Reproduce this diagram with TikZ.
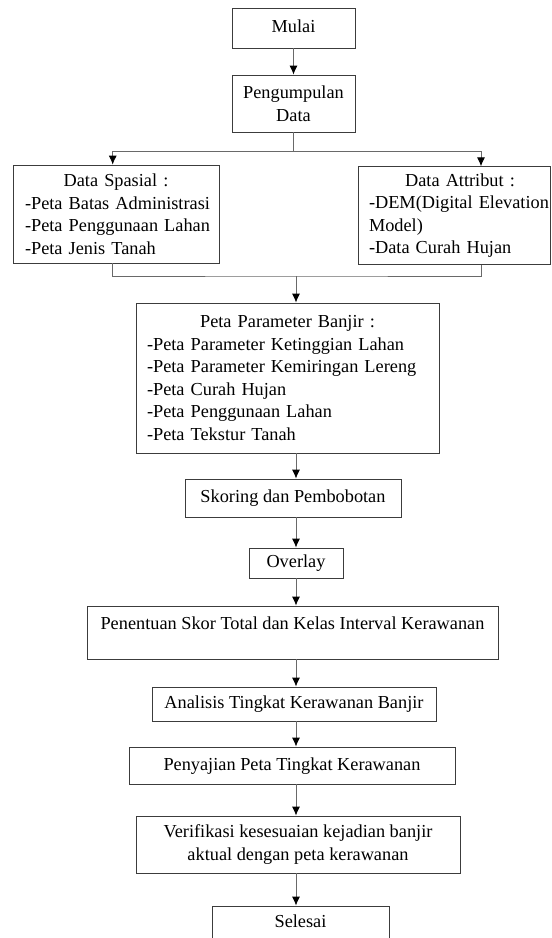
\documentclass[tikz,border=0pt]{standalone}
\usepackage{fontspec}
\setmainfont{Liberation Serif}
\usepackage{xcolor}
\usetikzlibrary{arrows.meta}
\usetikzlibrary{math}
\definecolor{garisabu}{RGB}{105,105,105}
\definecolor{tepikotak}{RGB}{60,60,60}

\tikzset{
kotak/.style={draw=tepikotak, line width=0.8pt, inner sep=0pt, font=\fontsize{18.3}{22.5}\selectfont},
tunggal/.style={text height=13pt, text depth=4pt},
garis/.style={draw=garisabu, line width=0.8pt},
panah/.style={garis, -{Latex[black,length=9pt,width=8pt]}},
}

\begin{document}
\begin{tikzpicture}[x=1pt,y=-1pt]
\tikzmath{
\xa=293.5;
\xb=296;
\xki=112.7;
\xka=481;
\ycab=151.5;
\ygab=276;
}
\useasboundingbox (0,0) rectangle (552,938);
\clip (0,0) rectangle (552,938);

\node[kotak, tunggal, minimum width=123pt, minimum height=40pt] (mulai) at (\xa,28) {Mulai};
\node[kotak, align=center, minimum width=123pt, minimum height=57pt] (kumpul) at (\xa,103.5) {Pengumpulan\\Data};

\node[kotak, align=left, text width=182pt, inner xsep=12pt, minimum height=98pt] (spasial) at (116,214)
{\centering Data Spasial :\par\raggedright \mbox{-Peta Batas Administrasi}\\\mbox{-Peta Penggunaan Lahan}\\\mbox{-Peta Jenis Tanah}};
\node[kotak, align=left, text width=170pt, inner xsep=11pt, minimum height=97.5pt] (atribut) at (454,215.5)
{\centering\hspace*{12pt}Data Attribut :\par\raggedright \mbox{-DEM(Digital Elevation}\\Model)\\\mbox{-Data Curah Hujan}};

\node[kotak, align=left, text width=281pt, inner xsep=11pt, minimum height=150pt] (parameter) at (287.5,378)
{\centering Peta Parameter Banjir :\par\raggedright \mbox{-Peta Parameter Ketinggian Lahan}\\\mbox{-Peta Parameter Kemiringan Lereng}\\-Peta Curah Hujan\\-Peta Penggunaan Lahan\\-Peta Tekstur Tanah};

\node[kotak, tunggal, minimum width=216pt, minimum height=38pt] (skoring) at (293,498) {Skoring dan Pembobotan};
\node[kotak, tunggal, minimum width=94pt, minimum height=30pt] (overlay) at (296,563) {Overlay};
\node[kotak, text height=23pt, text depth=30pt, minimum width=411pt] (skor) at (292.5,632.5) {Penentuan Skor Total dan Kelas Interval Kerawanan};
\node[kotak, tunggal, minimum width=284pt, minimum height=34pt] (analisis) at (294,704) {Analisis Tingkat Kerawanan Banjir};
\node[kotak, tunggal, minimum width=326pt, minimum height=37pt] (sajian) at (292,765.5) {Penyajian Peta Tingkat Kerawanan};
\node[kotak, align=center, minimum width=324pt, minimum height=57pt] (verifikasi) at (298,844.5) {Verifikasi kesesuaian kejadian banjir\\aktual dengan peta kerawanan};
\node[kotak, tunggal, minimum width=177pt, minimum height=34pt] (selesai) at (300.5,923) {Selesai};

% percabangan data
\coordinate (cab) at (\xa,\ycab);
\coordinate (cki) at (\xki,\ycab);
\coordinate (cka) at (\xka,\ycab);
\coordinate (gab) at (\xb,\ygab);

\draw[panah] (mulai) -- (kumpul);
\draw[garis] (kumpul) -- (cab);
\draw[panah] (cab) -- (cki) -- (spasial.north -| cki);
\draw[panah] (cab) -- (cka) -- (atribut.north -| cka);
\draw[garis] (spasial.south -| cki) |- (gab) -| (atribut.south -| cka);
\draw[panah] (gab) -- (parameter.north -| gab);

\foreach \a/\b in {parameter/skoring, skoring/overlay, overlay/skor, skor/analisis, analisis/sajian, sajian/verifikasi, verifikasi/selesai}
  \draw[panah] (\a.south -| gab) -- (\b.north -| gab);
\end{tikzpicture}
\end{document}
